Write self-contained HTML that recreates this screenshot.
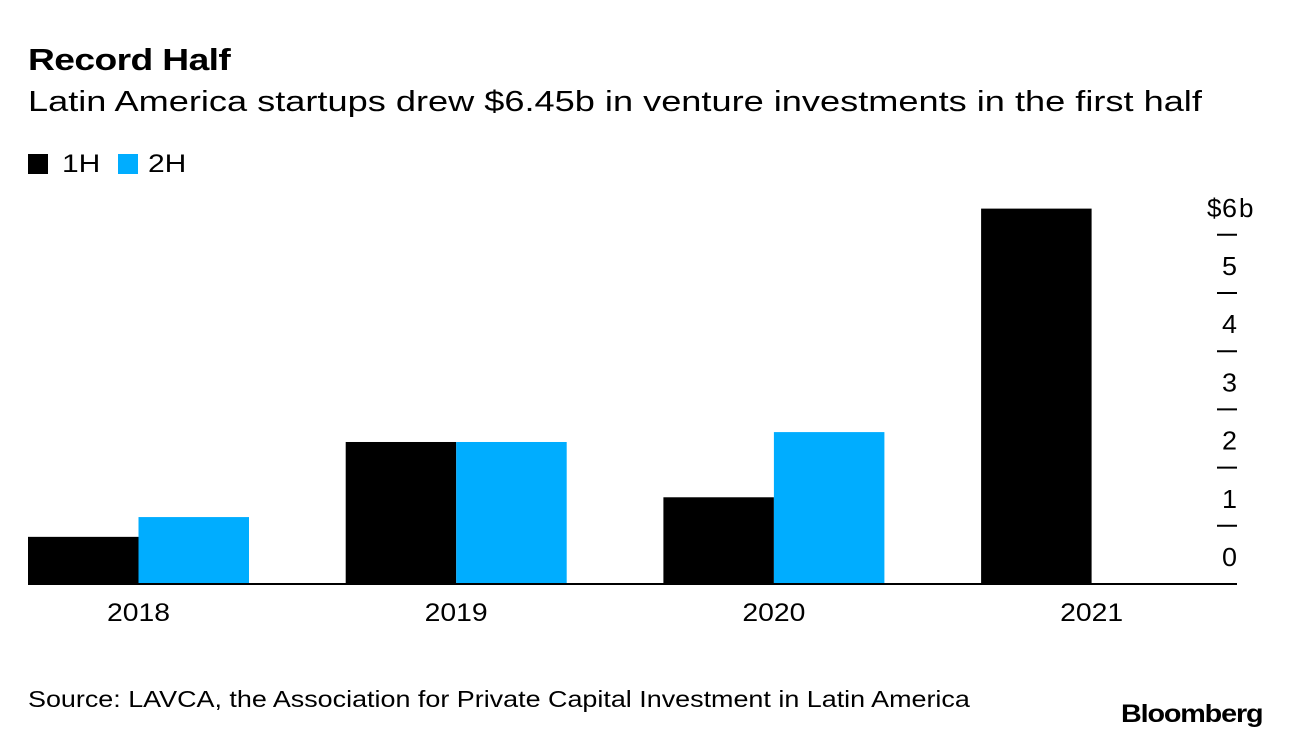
<!DOCTYPE html>
<html><head><meta charset="utf-8"><style>
body{margin:0;width:1289px;height:740px;background:#fff;font-family:"Liberation Sans",sans-serif;overflow:hidden;position:relative}
.t{position:absolute;white-space:nowrap;color:#000;transform-origin:0 0}
</style></head><body>
<div class="t" style="left:28px;top:42px;font-size:31px;font-weight:bold;letter-spacing:-0.5px;transform:scaleX(1.2)">Record Half</div>
<div class="t" style="left:28px;top:86px;font-size:29px;transform:scaleX(1.247)">Latin America startups drew $6.45b in venture investments in the first half</div>
<div class="t" style="left:28px;top:150px;font-size:25px"><span style="display:inline-block;width:20px;height:20px;background:#000;vertical-align:-2px;margin-right:14px"></span><span style="display:inline-block;transform:scaleX(1.2);transform-origin:0 0">1H</span></div>
<div class="t" style="left:118px;top:150px;font-size:25px"><span style="display:inline-block;width:20px;height:20px;background:#00adff;vertical-align:-2px;margin-right:10px"></span><span style="display:inline-block;transform:scaleX(1.2);transform-origin:0 0">2H</span></div>
<svg id="chart" width="1289" height="740" style="position:absolute;left:0;top:0"></svg>
<div class="t" style="left:28px;top:686px;font-size:23px;transform:scaleX(1.17)">Source: LAVCA, the Association for Private Capital Investment in Latin America</div>
<div class="t" style="left:1121px;top:700px;font-size:25px;font-weight:bold;letter-spacing:-1px;transform:scaleX(1.15)">Bloomberg</div>
<script>
const categories=["2018","2019","2020","2021"];
const series1H=[0.81,2.44,1.49,6.45];
const series2H=[1.15,2.44,2.61,null];
const tickValues=[0,1,2,3,4,5,6];
const tickLabels=["0","1","2","3","4","5","6"];
const svg=document.getElementById('chart');
const NS="http://www.w3.org/2000/svg";
const y0=584,unit=58.2;
const y=v=>y0-v*unit;
const x=i=>28+i*317.7;
const bw=110.5;
function mk(t,a){const e=document.createElementNS(NS,t);for(const k in a)e.setAttribute(k,a[k]);svg.appendChild(e);return e;}
categories.forEach((c,i)=>{
 if(series1H[i]!=null){const r=mk('rect',{x:x(i),y:y(series1H[i]),width:bw,height:series1H[i]*unit,fill:'#000'});
 
 }
 if(series2H[i]!=null){const r=mk('rect',{x:x(i)+bw,y:y(series2H[i]),width:bw,height:series2H[i]*unit,fill:'#00adff'});
 
 }
 const t=mk('text',{x:x(i)+bw-31.5,y:621,'font-size':25,textLength:63,lengthAdjust:'spacingAndGlyphs','font-family':'Liberation Sans, sans-serif'});
 t.textContent=c;
 
 
});
const ax=mk('line',{x1:28,x2:1237,y1:y0,y2:y0,stroke:'#000','stroke-width':2});


tickValues.forEach((v,i)=>{
 if(v>0){const l=mk('line',{x1:1217,x2:1237,y1:y(v),y2:y(v),stroke:'#000','stroke-width':2});
 
 }
 const t=mk('text',{x:1222,y:y(v)-18,'font-size':26,textLength:15,lengthAdjust:'spacingAndGlyphs','font-family':'Liberation Sans, sans-serif'});
 t.textContent=tickLabels[i];
 
 
 if(i===tickValues.length-1){
  const d=mk('text',{x:1207,y:y(v)-18,'font-size':26,'font-family':'Liberation Sans, sans-serif'});
  d.textContent='$';
  
  
  const b=mk('text',{x:1239,y:y(v)-18,'font-size':26,'font-family':'Liberation Sans, sans-serif'});
  b.textContent='b';
  
  
 }
});
</script>
</body></html>
